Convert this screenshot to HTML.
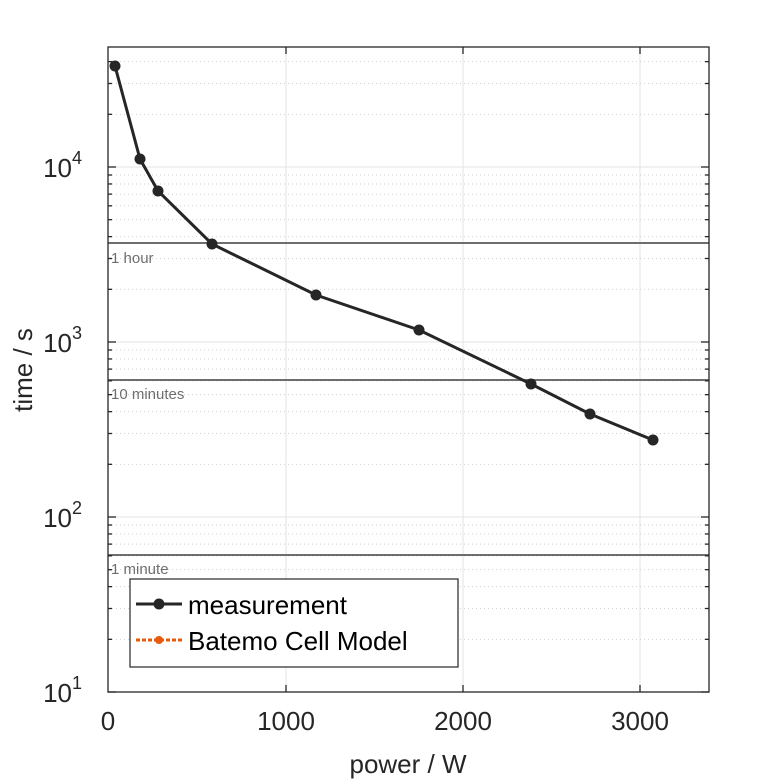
<!DOCTYPE html>
<html><head><meta charset="utf-8"><style>
body{margin:0;background:#fff}
svg{display:block;font-family:"Liberation Sans",sans-serif}
</style></head><body>
<svg id="s" width="781" height="781" viewBox="0 0 781 781" xmlns="http://www.w3.org/2000/svg">
<rect x="0" y="0" width="781" height="781" fill="#fff"/>
<g id="grid"></g>
<line x1="108" y1="243" x2="709" y2="243" stroke="#6e6e6e" stroke-width="2"/>
<line x1="108" y1="380" x2="709" y2="380" stroke="#6e6e6e" stroke-width="2"/>
<line x1="108" y1="555" x2="709" y2="555" stroke="#6e6e6e" stroke-width="2"/>
<text x="111" y="263" font-size="15" fill="#6e6e6e">1 hour</text>
<text x="111" y="399" font-size="15" fill="#6e6e6e">10 minutes</text>
<text x="111" y="574" font-size="15" fill="#6e6e6e">1 minute</text>
<polyline points="115,66 140,159 158,191 212,244 316,295 419,330 531,384 590,414 653,440" fill="none" stroke="#262626" stroke-width="3"/>
<g fill="#262626">
<circle cx="115" cy="66" r="5.5"/><circle cx="140" cy="159" r="5.5"/><circle cx="158" cy="191" r="5.5"/>
<circle cx="212" cy="244" r="5.5"/><circle cx="316" cy="295" r="5.5"/><circle cx="419" cy="330" r="5.5"/>
<circle cx="531" cy="384" r="5.5"/><circle cx="590" cy="414" r="5.5"/><circle cx="653" cy="440" r="5.5"/>
</g>
<rect x="108" y="47" width="601" height="645" fill="none" stroke="#262626" stroke-width="1.3"/>
<g id="ticks" stroke="#262626" stroke-width="1.3"></g>
<g font-size="26" fill="#262626" text-anchor="middle">
<text x="108" y="730">0</text><text x="286" y="730">1000</text><text x="463" y="730">2000</text><text x="640" y="730">3000</text>
</g>
<g font-size="26" fill="#262626" text-anchor="end">
<text x="82" y="702">10<tspan font-size="18" dy="-13">1</tspan></text>
<text x="82" y="527">10<tspan font-size="18" dy="-13">2</tspan></text>
<text x="82" y="352">10<tspan font-size="18" dy="-13">3</tspan></text>
<text x="82" y="177">10<tspan font-size="18" dy="-13">4</tspan></text>
</g>
<text x="408" y="773" font-size="26" fill="#262626" text-anchor="middle">power / W</text>
<text transform="translate(32,370) rotate(-90)" font-size="26" fill="#262626" text-anchor="middle">time / s</text>
<rect x="130" y="579" width="328" height="88" fill="#fff" stroke="#262626" stroke-width="1.2"/>
<line x1="136" y1="604" x2="182" y2="604" stroke="#262626" stroke-width="3"/>
<circle cx="159" cy="604" r="5.5" fill="#262626"/>
<line x1="136" y1="640" x2="182" y2="640" stroke="#e8590c" stroke-width="3" stroke-dasharray="4,2"/>
<circle cx="159" cy="640" r="4" fill="#e8590c"/>
<text x="188" y="614" font-size="26" fill="#000">measurement</text>
<text x="188" y="650" font-size="26" fill="#000">Batemo Cell Model</text>
</svg>
<script>
var ns="http://www.w3.org/2000/svg",g=document.getElementById("grid"),t=document.getElementById("ticks");
function L(p,x1,y1,x2,y2,st,w,da){var l=document.createElementNS(ns,"line");l.setAttribute("x1",x1);l.setAttribute("y1",y1);l.setAttribute("x2",x2);l.setAttribute("y2",y2);if(st)l.setAttribute("stroke",st);if(w)l.setAttribute("stroke-width",w);if(da)l.setAttribute("stroke-dasharray",da);p.appendChild(l);}
[286,463,640].forEach(function(x){L(g,x,47,x,692,"#e3e3e3",1);L(t,x,692,x,685);L(t,x,47,x,54);});
for(var d=0;d<4;d++){for(var k=1;k<=9;k++){var y=692-175*(d+Math.log10(k));if(y<47)continue;
if(k==1){ if(d>0){L(g,108,y,709,y,"#e3e3e3",1);} L(t,108,y,116,y);L(t,709,y,701,y);}
else {L(g,108,y,709,y,"#d0d0d0",1,"1,3");L(t,108,y,112,y);L(t,709,y,705,y);}}}
</script>
</body></html>
